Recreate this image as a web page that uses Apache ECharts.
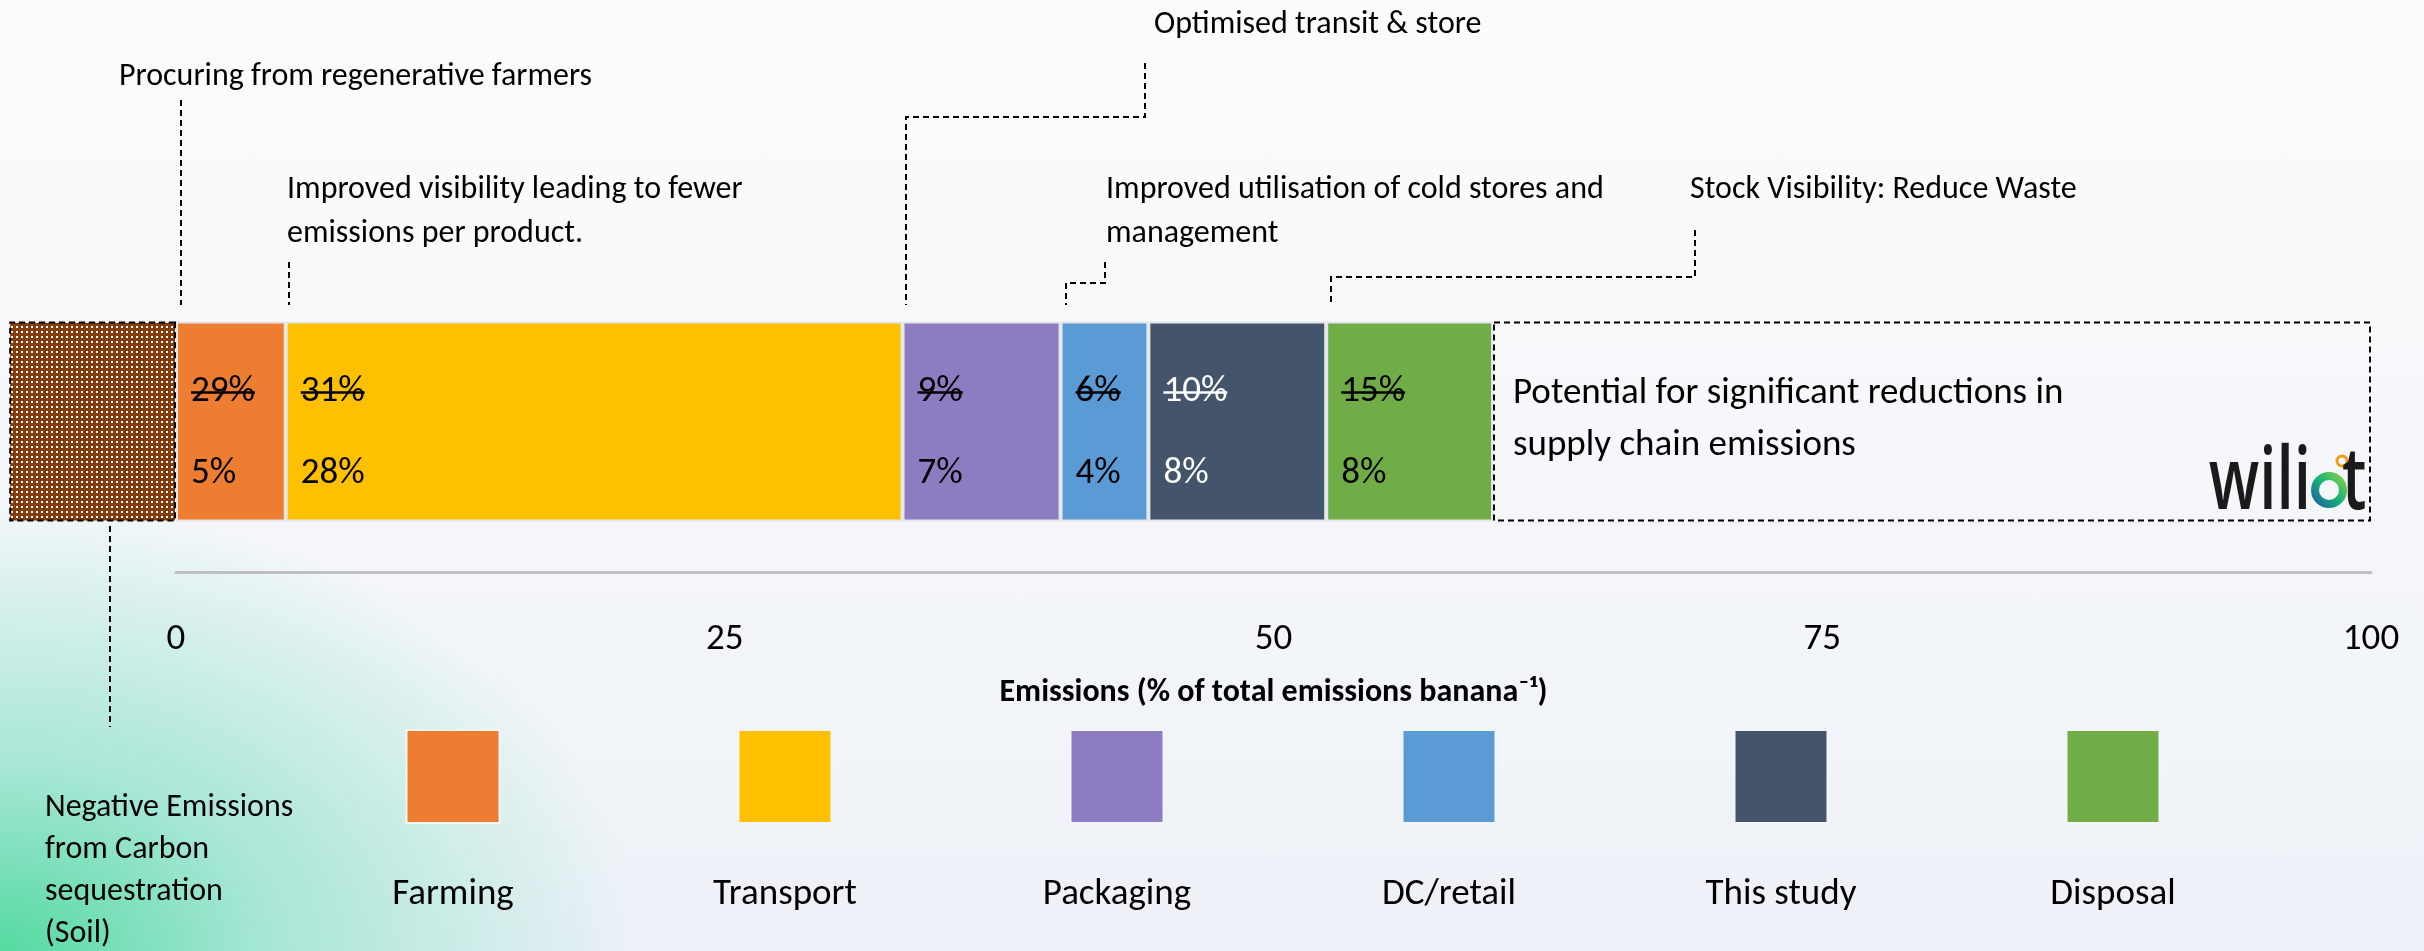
<!DOCTYPE html>
<html>
<head>
<meta charset="utf-8">
<title>Banana supply chain emissions</title>
<script src="https://cdn.jsdelivr.net/npm/echarts@6/dist/echarts.min.js"></script>
<style>
  html, body { margin: 0; padding: 0; }
  #chart {
    width: 2424px;
    height: 951px;
    background:
      radial-gradient(ellipse 640px 450px at 0% 100%, rgba(84, 218, 160, 1) 0%, rgba(130, 224, 198, 0.65) 42%, rgba(237, 241, 248, 0) 100%),
      linear-gradient(180deg, #fbfcfd 0%, #f7f9fb 35%, #edf1f7 100%);
  }
</style>
</head>
<body>
<div id="chart"></div>
<script>
const FONT = 'Carlito, Lato, sans-serif';

// supply chain stages and their share of total emissions per banana (%)
const categories = ['Farming', 'Transport', 'Packaging', 'DC/retail', 'This study', 'Disposal'];
const shares = [5.0, 28.1, 7.2, 4.0, 8.1, 7.6];
const oldLabels = ['29%', '31%', '9%', '6%', '10%', '15%'];
const newLabels = ['5%', '28%', '7%', '4%', '8%', '8%'];
const colors = ['#ed7d31', '#ffc000', '#8e7cc3', '#5b9bd5', '#44546a', '#70ad47'];
const soilShare = -7.6;      // negative emissions from carbon sequestration
const potentialShare = 40;   // remaining room up to 100
const xTicks = [0, 25, 50, 75, 100];

// dotted brown fill for the soil block
const tile = document.createElement('canvas');
tile.width = 5;
tile.height = 5;
const tctx = tile.getContext('2d');
tctx.fillStyle = '#843c0c';
tctx.fillRect(0, 0, 5, 5);
tctx.fillStyle = '#ffffff';
tctx.fillRect(1, 1, 2, 2);

const chart = echarts.init(document.getElementById('chart'));

const series = [];
series.push({
    name: 'Soil',
    type: 'bar',
    stack: 'chain',
    clip: false,
    barWidth: 200,
    silent: true,
    data: [soilShare],
    itemStyle: {
        color: { image: tile, repeat: 'repeat' },
        borderColor: '#000',
        borderWidth: 2,
        borderType: [6, 4],
    },
});
categories.forEach((name, i) => {
    series.push({
        name: name,
        type: 'bar',
        stack: 'chain',
        barWidth: 200,
        silent: true,
        data: [shares[i]],
        itemStyle: {
            color: colors[i],
            borderColor: '#e4e6ea',
            borderWidth: 2,
        },
        label: {
            show: true,
            position: 'insideLeft',
            distance: 15,
            offset: [0, 11],
            formatter: '{a|' + oldLabels[i] + '}\n{a|' + newLabels[i] + '}',
            rich: {
                a: {
                    fontFamily: FONT,
                    fontSize: 37,
                    lineHeight: 82,
                    color: i === 4 ? '#fff' : '#000',
                },
            },
        },
    });
});
series.push({
    name: 'Potential',
    type: 'bar',
    stack: 'chain',
    barWidth: 200,
    silent: true,
    data: [potentialShare],
    itemStyle: {
        color: 'rgba(0,0,0,0)',
        borderColor: '#000',
        borderWidth: 2,
        borderType: [6, 4],
    },
    label: {
        show: true,
        position: 'insideLeft',
        distance: 20,
        offset: [0, -2],
        formatter: '{a|Potential for significant reductions in}\n{a|supply chain emissions}',
        rich: {
            a: { fontFamily: FONT, fontSize: 37, lineHeight: 52, color: '#000' },
        },
    },
});
// legend swatches, drawn as a row of bars under the axis
series.push({
    type: 'bar',
    xAxisIndex: 1,
    yAxisIndex: 1,
    barWidth: 95,
    silent: true,
    data: categories.map((c, i) => ({
        value: 1,
        itemStyle: { color: colors[i], borderColor: '#f4f5f7', borderWidth: 2 },
    })),
});

const option = {
    animation: false,
    grid: [
        { left: 176, right: 53, top: 271, bottom: 379 },
        { left: 287, width: 1992, top: 729, height: 95 },
    ],
    xAxis: [
        {
            type: 'value',
            gridIndex: 0,
            min: xTicks[0],
            max: xTicks[xTicks.length - 1],
            interval: xTicks[1] - xTicks[0],
            splitLine: { show: false },
            axisTick: { show: false },
            axisLine: { show: true, lineStyle: { color: '#bfbfbf', width: 3 } },
            axisLabel: { fontFamily: FONT, fontSize: 37, color: '#000', margin: 49 },
            name: 'Emissions (% of total emissions banana\u207b\u00b9)',
            nameLocation: 'middle',
            nameGap: 105,
            nameTextStyle: { fontFamily: FONT, fontSize: 32, fontWeight: 'bold', color: '#000' },
        },
        {
            type: 'category',
            gridIndex: 1,
            data: categories,
            axisLine: { show: false },
            axisTick: { show: false },
            axisLabel: { fontFamily: FONT, fontSize: 37, color: '#000', margin: 52 },
        },
    ],
    yAxis: [
        { type: 'category', gridIndex: 0, data: ['banana'], show: false },
        { type: 'value', gridIndex: 1, min: 0, max: 1, show: false },
    ],
    series: series,
};
chart.setOption(option);

// annotation texts and dashed leaders
const dash = { stroke: '#000', lineWidth: 2, lineDash: [6, 4], fill: null };
const note = (text, x, y, size, lh) => ({
    type: 'text',
    x: x,
    y: y,
    z: 100,
    silent: true,
    style: { text: text, fontFamily: FONT, fontSize: size, lineHeight: lh, fill: '#000', verticalAlign: 'top' },
});
const leader = (pts) => ({ type: 'polyline', z: 100, silent: true, shape: { points: pts }, style: dash });

const elements = [
    note('Procuring from regenerative farmers', 119, 55, 32, 44),
    leader([[181, 100], [181, 305]]),
    note('Improved visibility leading to fewer\nemissions per product.', 287, 168, 32, 44),
    leader([[289, 262], [289, 305]]),
    note('Optimised transit & store', 1154, 3, 32, 44),
    leader([[1145, 63], [1145, 117], [906, 117], [906, 305]]),
    note('Improved utilisation of cold stores and\nmanagement', 1106, 168, 32, 44),
    leader([[1105, 262], [1105, 283], [1066, 283], [1066, 305]]),
    note('Stock Visibility: Reduce Waste', 1690, 168, 32, 44),
    leader([[1695, 230], [1695, 277], [1331, 277], [1331, 305]]),
    leader([[110, 526], [110, 727]]),
    note('Negative Emissions\nfrom Carbon\nsequestration\n(Soil)', 45, 787, 32, 42),
    // wiliot logo
    {
        type: 'text', x: 2311, y: 484, scaleX: 0.72, z: 100, silent: true,
        style: { text: 'wili', fontFamily: 'Open Sans', fontWeight: 600, fontSize: 86, fill: '#1a1a1a', align: 'right', verticalAlign: 'middle' },
    },
    {
        type: 'circle', z: 100, silent: true, shape: { cx: 2329, cy: 490, r: 14 },
        style: {
            fill: null, lineWidth: 8,
            stroke: new echarts.graphic.LinearGradient(0, 1, 1, 0, [
                { offset: 0, color: '#1f4fa8' }, { offset: 0.5, color: '#18b27a' }, { offset: 1, color: '#9ad63c' },
            ]),
        },
    },
    {
        type: 'circle', z: 100, silent: true, shape: { cx: 2342, cy: 461, r: 5 },
        style: { fill: null, lineWidth: 3, stroke: '#f39c12' },
    },
    {
        type: 'text', x: 2342, y: 484, scaleX: 0.72, z: 100, silent: true,
        style: { text: 't', fontFamily: 'Open Sans', fontWeight: 600, fontSize: 86, fill: '#1a1a1a', align: 'left', verticalAlign: 'middle' },
    },
];

// strike through the previous shares, placed from the axis scale
const ctx = document.createElement('canvas').getContext('2d');
ctx.font = '37px ' + FONT;
let start = 0;
shares.forEach((v, i) => {
    const p = chart.convertToPixel({ gridIndex: 0 }, [start, 'banana']);
    const x0 = p[0] + 15;
    const w = ctx.measureText(oldLabels[i]).width;
    const y = p[1] - 29;
    elements.push({
        type: 'line', z: 100, silent: true,
        shape: { x1: x0, y1: y, x2: x0 + w, y2: y },
        style: { stroke: i === 4 ? '#fff' : '#000', lineWidth: 2.5 },
    });
    start += v;
});

chart.setOption({ graphic: { elements: elements } });
</script>
</body>
</html>
